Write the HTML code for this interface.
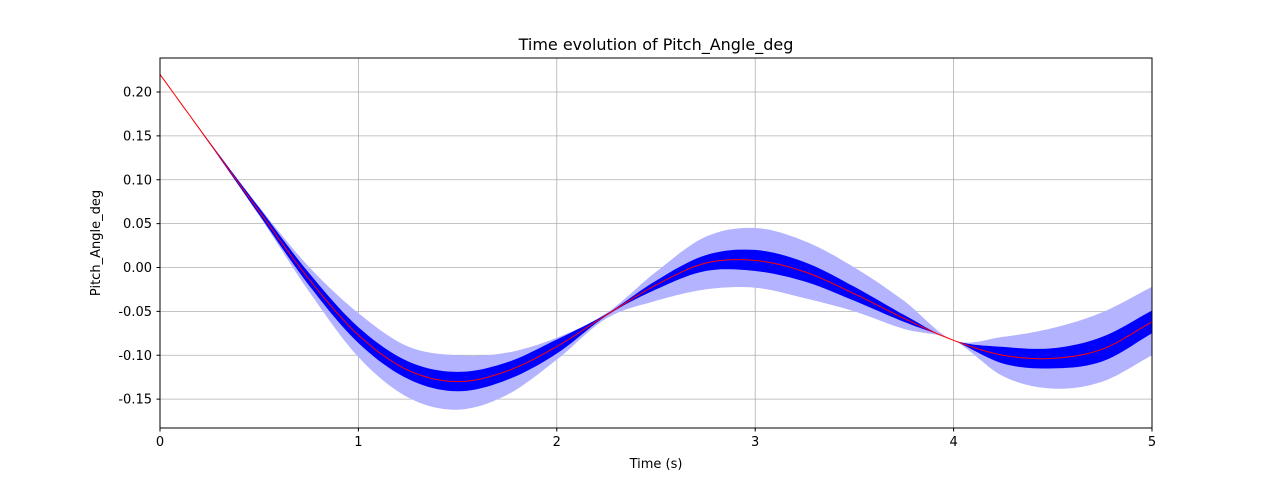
<!DOCTYPE html>
<html><head><meta charset="utf-8"><style>
body{margin:0;background:#fff;font-family:"Liberation Sans","DejaVu Sans",sans-serif}
svg text{font-family:"DejaVu Sans","Liberation Sans",sans-serif;font-size:13px;fill:#000}
</style></head><body>
<svg id="chart" width="1280" height="480" viewBox="0 0 1280 480" xmlns="http://www.w3.org/2000/svg">
<rect width="1280" height="480" fill="#fff"/>
<g id="grid"></g><g id="bands"></g><g id="lines"></g>
<rect x="160" y="58" width="992" height="370" fill="none" stroke="#000" stroke-width="1"/>
<g id="ticks"></g>
<text x="656" y="50" text-anchor="middle" style="font-size:16px">Time evolution of Pitch_Angle_deg</text>
<text x="656" y="468" text-anchor="middle">Time (s)</text>
<text transform="translate(100,243) rotate(-90)" text-anchor="middle">Pitch_Angle_deg</text>
</svg>
<script>
const times=[0,0.25,0.5,0.75,1,1.25,1.5,1.75,2,2.25,2.5,2.75,3,3.25,3.5,3.75,4,4.25,4.5,4.75,5];
const meanVals=[0.22,0.142,0.064,-0.013,-0.077,-0.117,-0.130,-0.118,-0.09,-0.054,-0.02,0.005,0.008,-0.005,-0.03,-0.058,-0.083,-0.100,-0.1035,-0.093,-0.062];
const innerHalf=[0,0.001,0.004,0.007,0.009,0.01,0.011,0.01,0.008,0.001,0.005,0.009,0.012,0.011,0.008,0.004,0,0.0095,0.0115,0.014,0.013];
const outerUpper=[0.22,0.143,0.069,0.001,-0.052,-0.09,-0.1,-0.097,-0.08,-0.052,-0.005,0.035,0.045,0.03,0.0,-0.038,-0.083,-0.079,-0.069,-0.051,-0.022];
const outerLower=[0.22,0.141,0.059,-0.027,-0.102,-0.148,-0.162,-0.145,-0.105,-0.058,-0.038,-0.025,-0.023,-0.035,-0.05,-0.07,-0.083,-0.124,-0.138,-0.13,-0.1];
const xTicks=[0,1,2,3,4,5];
const yTicks=[-0.15,-0.10,-0.05,0.00,0.05,0.10,0.15,0.20];
const X=t=>160+t*198.4, Y=v=>267.5-v*877.5;
const NS="http://www.w3.org/2000/svg";
function mk(tag,attrs,parent){const e=document.createElementNS(NS,tag);for(const k in attrs)e.setAttribute(k,attrs[k]);document.getElementById(parent).appendChild(e);return e;}
function smooth(vals){
  const n=vals.length;const at=i=>i<0?2*vals[0]-vals[1]:(i>=n?2*vals[n-1]-vals[n-2]:vals[i]);
  const pts=[];for(let i=0;i<n-1;i++){const p0=at(i-1),p1=at(i),p2=at(i+1),p3=at(i+2);
  for(let s=0;s<10;s++){const u=s/10;const v=0.5*((2*p1)+(-p0+p2)*u+(2*p0-5*p1+4*p2-p3)*u*u+(-p0+3*p1-3*p2+p3)*u*u*u);pts.push([X(times[i]+u*(times[i+1]-times[i])),Y(v)]);}}
  pts.push([X(times[n-1]),Y(vals[n-1])]);return pts;}
function band(lo,hi,fill,name){const a=smooth(hi),b=smooth(lo).reverse();
  const d="M"+a.concat(b).map(p=>p[0].toFixed(1)+","+p[1].toFixed(1)).join("L")+"Z";
  const e=mk("path",{d:d,fill:fill,stroke:"none"},"bands");
  
  }
band(outerLower,outerUpper,"#b3b3ff","outer-band");
band(meanVals.map((m,i)=>m-innerHalf[i]),meanVals.map((m,i)=>m+innerHalf[i]),"#0000ff","inner-band");
const ml=mk("path",{d:"M"+smooth(meanVals).map(p=>p[0].toFixed(1)+","+p[1].toFixed(1)).join("L"),fill:"none",stroke:"#ff0000","stroke-width":1},"lines");


xTicks.forEach(t=>{const x=X(t);
  const g=mk("line",{x1:x,x2:x,y1:58,y2:428,stroke:"#b0b0b0","stroke-width":0.8},"grid");
  
  
  mk("line",{x1:x,x2:x,y1:428,y2:431.5,stroke:"#000"},"ticks");
  const l=mk("text",{x:x,y:446,"text-anchor":"middle"},"ticks");l.textContent=t;
  
  });
yTicks.forEach(v=>{const y=Y(v);
  const g=mk("line",{x1:160,x2:1152,y1:y,y2:y,stroke:"#b0b0b0","stroke-width":0.8},"grid");
  
  
  mk("line",{x1:156.5,x2:160,y1:y,y2:y,stroke:"#000"},"ticks");
  const l=mk("text",{x:152,y:y+4.5,"text-anchor":"end"},"ticks");l.textContent=v.toFixed(2);
  
  });
</script>
</body></html>
